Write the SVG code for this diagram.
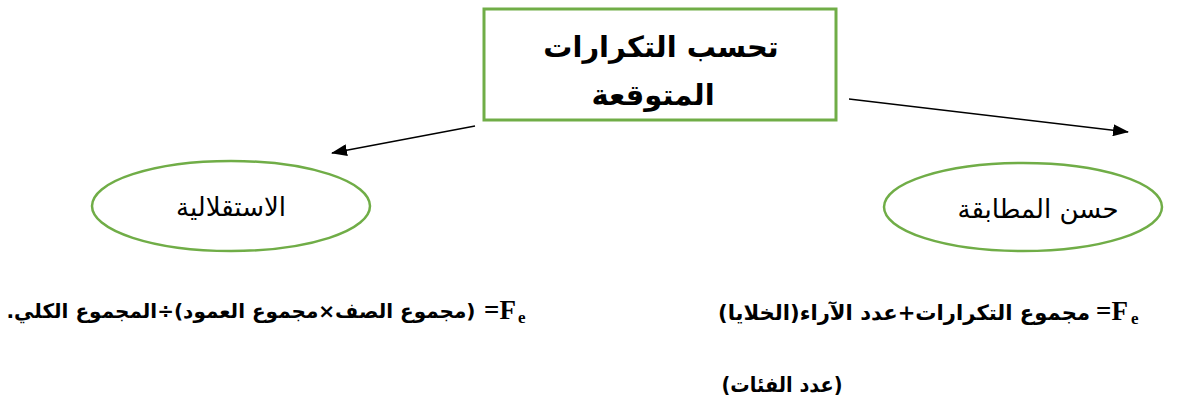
<svg xmlns="http://www.w3.org/2000/svg" width="1197" height="414" viewBox="0 0 1197 414">
<defs>
<style>
.box{fill:#fff;stroke:#70AD47;stroke-width:3}
.ell{fill:#fff;stroke:#70AD47;stroke-width:2.5}
.conn{stroke:#000;stroke-width:1.3;fill:none}
.title{font-family:"DejaVu Sans","Liberation Sans",sans-serif;font-weight:bold;font-size:29px;fill:#000}
.lbl{font-family:"DejaVu Sans","Liberation Sans",sans-serif;font-size:26px;fill:#000}
.ar{font-family:"DejaVu Sans","Liberation Serif",serif;font-weight:bold;font-size:21px;fill:#000}
.lat{font-family:"Liberation Serif",serif;font-weight:bold;font-size:27px;fill:#000}
.sub{font-family:"Liberation Serif",serif;font-weight:bold;font-size:17px;fill:#000}
</style>
<marker id="ah" viewBox="0 0 16 12" refX="15" refY="6" markerWidth="16" markerHeight="12" markerUnits="userSpaceOnUse" orient="auto">
<path d="M0,0 L16,6 L0,12 z" fill="#000"/>
</marker>
</defs>
<rect width="1197" height="414" fill="#fff"/>
<g id="connectors">
<line class="conn" x1="475" y1="126" x2="332" y2="153" marker-end="url(#ah)"/>
<line class="conn" x1="849" y1="99" x2="1128" y2="132" marker-end="url(#ah)"/>
</g>
<g id="node-title">
<rect class="box" x="484" y="9" width="352" height="111"/>
<text class="title" x="661" y="57" text-anchor="middle" direction="rtl">تحسب التكرارات</text>
<text class="title" x="653" y="105" text-anchor="middle" direction="rtl">المتوقعة</text>
</g>
<g id="node-independence">
<ellipse class="ell" cx="231" cy="206" rx="139" ry="45"/>
<text class="lbl" x="231" y="216" text-anchor="middle" direction="rtl">الاستقلالية</text>
</g>
<g id="node-goodness">
<ellipse class="ell" cx="1023" cy="207" rx="139" ry="44"/>
<text class="lbl" x="1038" y="218" text-anchor="middle" direction="rtl">حسن المطابقة</text>
</g>
<g id="formula-left">
<text class="lat" x="484" y="319">=F</text>
<text class="sub" x="518" y="323">e</text>
<text class="ar" x="241" y="318" text-anchor="middle" direction="rtl" style="font-size:20px">(مجموع الصف×مجموع العمود)÷المجموع الكلي.</text>
</g>
<g id="formula-right">
<text class="lat" x="1096" y="320">=F</text>
<text class="sub" x="1131" y="324">e</text>
<text class="ar" x="904" y="320" text-anchor="middle" direction="rtl" textLength="372" lengthAdjust="spacingAndGlyphs">مجموع التكرارات+عدد الآراء(الخلايا)</text>
<text class="ar" x="782" y="392" text-anchor="middle" direction="rtl" textLength="121" lengthAdjust="spacingAndGlyphs">(عدد الفئات)</text>
</g>
</svg>
